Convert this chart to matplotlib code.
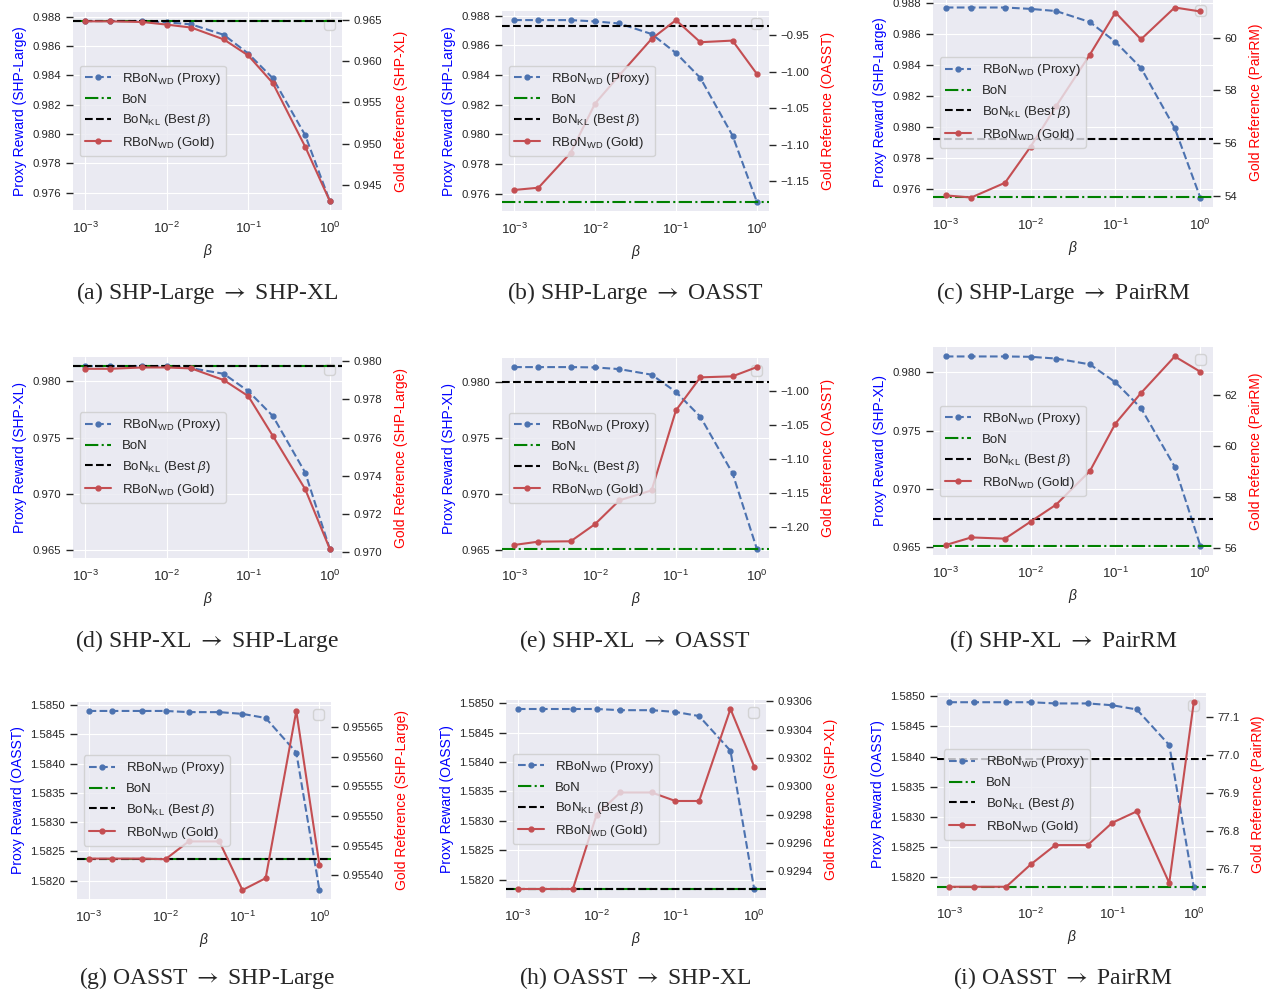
import matplotlib
matplotlib.use("Agg")
import matplotlib.pyplot as plt
from matplotlib.ticker import MultipleLocator

plt.style.use("seaborn-v0_8-darkgrid")
plt.rcParams["font.family"] = ["Liberation Sans", "DejaVu Sans"]
plt.rcParams["mathtext.fontset"] = "custom"
plt.rcParams["mathtext.rm"] = "Liberation Sans"
plt.rcParams["mathtext.it"] = "Liberation Sans:italic"
plt.rcParams["mathtext.bf"] = "Liberation Sans:bold"

# ---------- DATA ----------
betas = [0.001, 0.002, 0.005, 0.01, 0.02, 0.05, 0.1, 0.2, 0.5, 1.0]

# proxy reward curves (one per proxy model)
proxy_shp_large = [0.98771, 0.98771, 0.98771, 0.98762, 0.98748, 0.98677, 0.98549, 0.98381, 0.97992, 0.97544]
proxy_shp_xl = [0.98136, 0.98136, 0.98136, 0.98133, 0.98118, 0.98068, 0.97914, 0.97693, 0.97189, 0.96512]
proxy_oasst = [1.58490, 1.58490, 1.58490, 1.58490, 1.58488, 1.58488, 1.58485, 1.58478, 1.58419, 1.58184]

# gold reference curves
gold_a = [0.96488, 0.96488, 0.96480, 0.96448, 0.96412, 0.96268, 0.96072, 0.95736, 0.94960, 0.94300]
gold_b = [-1.1617, -1.1586, -1.1108, -1.0437, -1.0050, -0.9554, -0.9297, -0.9599, -0.9577, -1.0032]
gold_c = [54.01, 53.93, 54.49, 55.86, 57.40, 59.36, 60.96, 59.94, 61.15, 61.00]
gold_d = [0.97960, 0.97960, 0.97967, 0.97967, 0.97962, 0.97901, 0.97817, 0.97609, 0.97329, 0.97017]
gold_e = [-1.2263, -1.2214, -1.2209, -1.1956, -1.1606, -1.1460, -1.0282, -0.9796, -0.9781, -0.9645]
gold_f = [56.10, 56.40, 56.35, 57.02, 57.69, 59.01, 60.88, 62.08, 63.52, 62.92]
gold_g = [0.955428, 0.955428, 0.955428, 0.955427, 0.955457, 0.955457, 0.955375, 0.955395, 0.955677, 0.955417]
gold_h = [0.929275, 0.929275, 0.929275, 0.929800, 0.929956, 0.929956, 0.929896, 0.929896, 0.930545, 0.930139]
gold_i = [76.653, 76.653, 76.653, 76.712, 76.763, 76.763, 76.822, 76.852, 76.663, 77.140]

# BoN and BoN_KL (best beta) on the gold reference scale
bon_gold = [0.96492, -1.178, 53.94, 0.97974, -1.2321, 56.08, 0.955428, 0.929275, 76.653]
bonkl_gold = [0.96492, -0.9374, 56.15, 0.97974, -0.9869, 57.14, 0.955428, 0.929275, 76.990]

proxy_names = ["SHP-Large", "SHP-Large", "SHP-Large", "SHP-XL", "SHP-XL", "SHP-XL", "OASST", "OASST", "OASST"]
gold_names = ["SHP-XL", "OASST", "PairRM", "SHP-Large", "OASST", "PairRM", "SHP-Large", "SHP-XL", "PairRM"]
captions = [r"(a) SHP-Large $\rightarrow$ SHP-XL", r"(b) SHP-Large $\rightarrow$ OASST",
            r"(c) SHP-Large $\rightarrow$ PairRM", r"(d) SHP-XL $\rightarrow$ SHP-Large",
            r"(e) SHP-XL $\rightarrow$ OASST", r"(f) SHP-XL $\rightarrow$ PairRM",
            r"(g) OASST $\rightarrow$ SHP-Large", r"(h) OASST $\rightarrow$ SHP-XL",
            r"(i) OASST $\rightarrow$ PairRM"]
proxies = [proxy_shp_large] * 3 + [proxy_shp_xl] * 3 + [proxy_oasst] * 3
golds = [gold_a, gold_b, gold_c, gold_d, gold_e, gold_f, gold_g, gold_h, gold_i]

# tick spacing of left (proxy) and right (gold) axes
left_steps = [0.002] * 3 + [0.005] * 3 + [0.0005] * 3
right_steps = [0.005, 0.05, 2, 0.002, 0.05, 2, 0.00005, 0.0002, 0.1]

# ---------- LAYOUT (pixels: left, right, top, bottom) ----------
W, H = 1269, 992
boxes = [(73, 342, 12, 210), (502, 769, 11, 211), (933, 1213, -2, 207),
         (73, 342, 357, 558), (502, 769, 358, 558), (933, 1213, 347, 555),
         (77, 331, 702, 899), (506, 766, 700, 898), (937, 1206, 693, 896)]
cap_x = [207, 635, 1063]
cap_y = [293, 641, 978]

fig = plt.figure(figsize=(W / 100, H / 100), dpi=100)

for i in range(9):
    l, r, t, b = boxes[i]
    ax = fig.add_axes([l / W, 1 - b / H, (r - l) / W, (b - t) / H])
    ax.set_xscale("log")
    ax2 = ax.twinx()
    ax2.grid(False)

    h1, = ax.plot(betas, proxies[i], "--o", color="#4C72B0", lw=1.5, ms=3.5,
                  label=r"RBoN$_{\mathrm{WD}}$ (Proxy)")
    h2 = ax2.axhline(bon_gold[i], color="green", ls="-.", lw=1.5, label="BoN")
    h3 = ax2.axhline(bonkl_gold[i], color="black", ls="--", lw=1.5,
                     label=r"BoN$_{\mathrm{KL}}$ (Best $\beta$)")
    h4, = ax2.plot(betas, golds[i], "-o", color="#C44E52", lw=1.5, ms=3.5,
                   label=r"RBoN$_{\mathrm{WD}}$ (Gold)")

    ax.yaxis.set_major_locator(MultipleLocator(left_steps[i]))
    ax2.yaxis.set_major_locator(MultipleLocator(right_steps[i]))

    ax.set_xlabel(r"$\beta$", fontsize=10)
    ax.set_ylabel(f"Proxy Reward ({proxy_names[i]})", color="blue", fontsize=10, labelpad=4)
    ax2.set_ylabel(f"Gold Reference ({gold_names[i]})", color="red", fontsize=10, labelpad=8)

    ax.ticklabel_format(axis="y", useOffset=False)
    ax2.ticklabel_format(axis="y", useOffset=False)
    ax.tick_params(axis="y", left=True, length=5, width=1, color=".15", labelsize=8.2)
    ax2.tick_params(axis="y", right=True, length=5, width=1, color=".15", labelsize=8.2)
    ax.tick_params(axis="x", length=0, labelsize=9.5, pad=8)

    ax.legend(handles=[], loc="upper right", frameon=True)
    ax2.legend(handles=[h1, h2, h3, h4], loc="center left", fontsize=9.5, frameon=True)

    fig.text(cap_x[i % 3] / W, 1 - cap_y[i // 3] / H, captions[i], ha="center", va="center",
             fontsize=17, family=["Liberation Serif", "DejaVu Serif"], math_fontfamily="stix")

fig.savefig("out.png", dpi=100)
